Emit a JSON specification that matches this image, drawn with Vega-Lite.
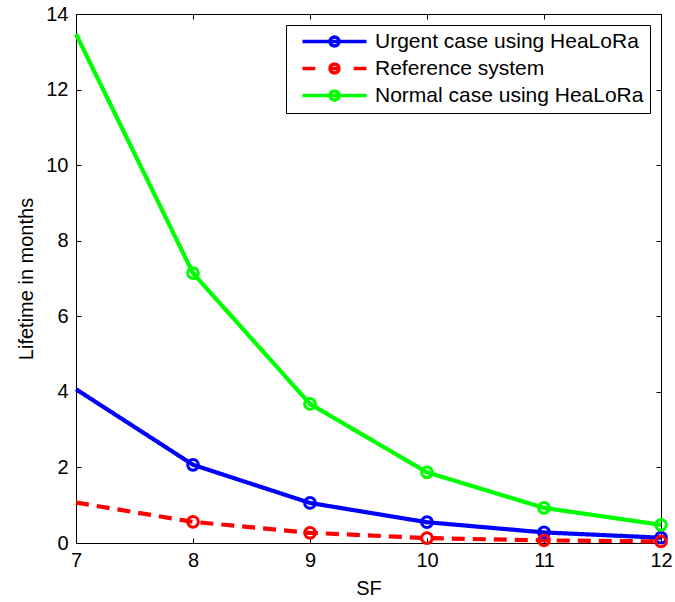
{
  "$schema": "https://vega.github.io/schema/vega-lite/v6.json",
  "width": 585,
  "height": 529,
  "autosize": "none",
  "padding": {"left": 76, "top": 14, "right": 14, "bottom": 59},
  "background": "white",
  "data": {
    "values": [
      {"SF": 7, "lifetime": 4.07, "series": "Urgent case using HeaLoRa"},
      {"SF": 8, "lifetime": 2.07, "series": "Urgent case using HeaLoRa"},
      {"SF": 9, "lifetime": 1.06, "series": "Urgent case using HeaLoRa"},
      {"SF": 10, "lifetime": 0.55, "series": "Urgent case using HeaLoRa"},
      {"SF": 11, "lifetime": 0.28, "series": "Urgent case using HeaLoRa"},
      {"SF": 12, "lifetime": 0.14, "series": "Urgent case using HeaLoRa"},
      {"SF": 7, "lifetime": 1.07, "series": "Reference system"},
      {"SF": 8, "lifetime": 0.56, "series": "Reference system"},
      {"SF": 9, "lifetime": 0.27, "series": "Reference system"},
      {"SF": 10, "lifetime": 0.13, "series": "Reference system"},
      {"SF": 11, "lifetime": 0.07, "series": "Reference system"},
      {"SF": 12, "lifetime": 0.04, "series": "Reference system"},
      {"SF": 7, "lifetime": 13.47, "series": "Normal case using HeaLoRa"},
      {"SF": 8, "lifetime": 7.14, "series": "Normal case using HeaLoRa"},
      {"SF": 9, "lifetime": 3.68, "series": "Normal case using HeaLoRa"},
      {"SF": 10, "lifetime": 1.87, "series": "Normal case using HeaLoRa"},
      {"SF": 11, "lifetime": 0.93, "series": "Normal case using HeaLoRa"},
      {"SF": 12, "lifetime": 0.48, "series": "Normal case using HeaLoRa"}
    ]
  },
  "config": {
    "font": "Liberation Sans",
    "view": {"stroke": "black", "strokeWidth": 1},
    "axis": {
      "grid": false,
      "domainColor": "black",
      "domainWidth": 1,
      "tickColor": "black",
      "tickWidth": 1,
      "tickSize": -5,
      "labelColor": "black",
      "labelFont": "Liberation Sans",
      "labelFontSize": 20,
      "titleFont": "Liberation Sans",
      "titleFontSize": 20,
      "titleFontWeight": "normal",
      "titleColor": "black"
    }
  },
  "layer": [
    {
      "mark": {"type": "line", "strokeWidth": 4.2, "strokeJoin": "round", "clip": false},
      "encoding": {
        "x": {
          "field": "SF", "type": "quantitative",
          "scale": {"domain": [7, 12], "nice": false, "zero": false},
          "axis": {"orient": "bottom", "values": [7, 8, 9, 10, 11, 12], "title": "SF", "labelPadding": 12, "titlePadding": 8, "labelFlush": false, "labelOverlap": false}
        },
        "y": {
          "field": "lifetime", "type": "quantitative",
          "scale": {"domain": [0, 14], "nice": false},
          "axis": {"orient": "left", "values": [0, 2, 4, 6, 8, 10, 12, 14], "title": "Lifetime in months", "labelPadding": 13, "titlePadding": 9, "labelFlush": false, "labelOverlap": false}
        },
        "color": {
          "field": "series", "type": "nominal",
          "scale": {"domain": ["Urgent case using HeaLoRa", "Reference system", "Normal case using HeaLoRa"], "range": ["#0000ff", "#ff0000", "#00ff00"]},
          "legend": null
        },
        "strokeDash": {
          "field": "series", "type": "nominal",
          "scale": {"domain": ["Urgent case using HeaLoRa", "Reference system", "Normal case using HeaLoRa"], "range": [[1, 0], [13, 8], [1, 0]]},
          "legend": null
        }
      }
    },
    {
      "transform": [{"filter": "datum.SF >= 8"}],
      "mark": {"type": "point", "shape": "circle", "filled": false, "size": 115, "strokeWidth": 3, "opacity": 1, "clip": false},
      "encoding": {
        "x": {"field": "SF", "type": "quantitative", "axis": {"orient": "top", "values": [7, 8, 9, 10, 11, 12], "labels": false, "title": null}},
        "y": {"field": "lifetime", "type": "quantitative", "axis": {"orient": "right", "values": [0, 2, 4, 6, 8, 10, 12, 14], "labels": false, "title": null}},
        "color": {"field": "series", "type": "nominal", "legend": null}
      }
    },
    {
      "mark": {"type": "point", "filled": false, "size": 256, "strokeWidth": 3.5},
      "encoding": {
        "x": {"field": "SF", "type": "quantitative", "axis": null},
        "y": {"field": "lifetime", "type": "quantitative", "axis": null},
        "opacity": {"value": 0},
        "color": {
          "field": "series", "type": "nominal",
          "legend": {
            "title": null,
            "orient": "top-right",
            "offset": 11,
            "padding": 6,
            "fillColor": "white",
            "strokeColor": "black",
            "labelFont": "Liberation Sans",
            "labelFontSize": 21,
            "labelColor": "black",
            "labelLimit": 400,
            "symbolSize": 256,
            "symbolStrokeWidth": 3.5,
            "symbolOffset": 32,
            "labelOffset": 30,
            "rowPadding": 4,
            "encode": {"symbols": {"update": {"opacity": {"value": 1}}}}
          }
        },
        "shape": {
          "field": "series", "type": "nominal",
          "scale": {
            "domain": ["Urgent case using HeaLoRa", "Reference system", "Normal case using HeaLoRa"],
            "range": [
              "M-4,0L4,0M0.56,0A0.56,0.56,0,1,1,-0.56,0A0.56,0.56,0,1,1,0.56,0",
              "M-4,0L-2.4,0M2.4,0L4,0M-0.56,0L0.56,0M0.56,0A0.56,0.56,0,1,1,-0.56,0A0.56,0.56,0,1,1,0.56,0",
              "M-4,0L4,0M0.56,0A0.56,0.56,0,1,1,-0.56,0A0.56,0.56,0,1,1,0.56,0"
            ]
          },
          "legend": {"title": null}
        }
      }
    }
  ],
  "resolve": {
    "axis": {"x": "independent", "y": "independent"},
    "legend": {"color": "independent", "shape": "independent", "strokeDash": "independent"}
  }
}
